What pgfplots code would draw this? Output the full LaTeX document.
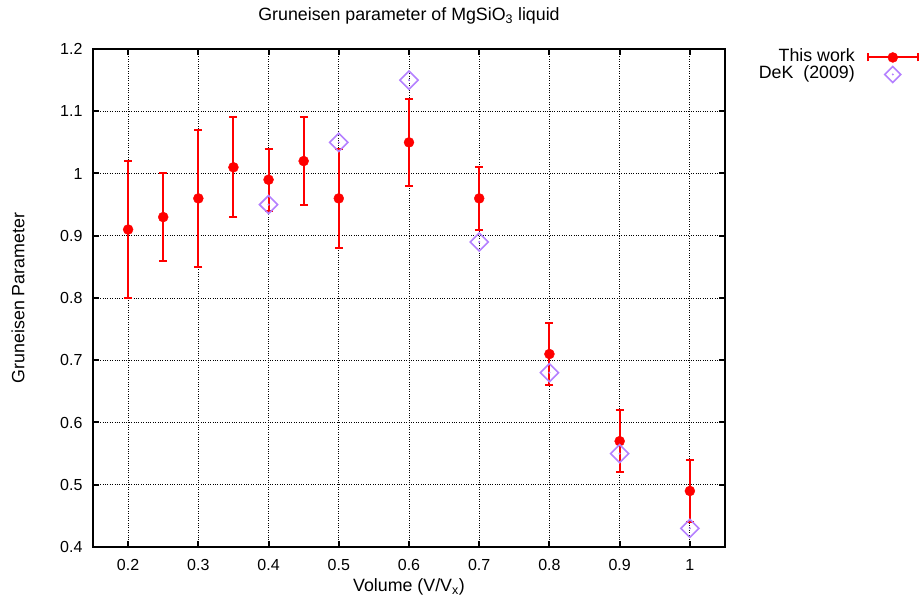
\documentclass[border=0pt]{standalone}
\usepackage{pgfplots}
\pgfplotsset{compat=1.18}
\usepackage{pgfplotstable}
\usepackage{fontspec}
\setmainfont{Liberation Sans}
\definecolor{dekcol}{RGB}{180,128,255}
\pgfplotstableread{
x y e
0.20 0.91 0.11
0.25 0.93 0.07
0.30 0.96 0.11
0.35 1.01 0.08
0.40 0.99 0.05
0.45 1.02 0.07
0.50 0.96 0.08
0.60 1.05 0.07
0.70 0.96 0.05
0.80 0.71 0.05
0.90 0.57 0.05
1.00 0.49 0.05
}\thiswork
\pgfplotstableread{
x y
0.40 0.95
0.50 1.05
0.60 1.15
0.70 0.89
0.80 0.68
0.90 0.55
1.00 0.43
}\dek
\newcommand{\labfont}{\fontsize{17.8bp}{20bp}\selectfont}
\newcommand{\tickfont}{\fontsize{16bp}{19bp}\selectfont}
\begin{document}
\begin{tikzpicture}
\path[use as bounding box] (-93bp,-50bp) rectangle (826bp,547bp);
\begin{axis}[
  at={(0bp,0bp)}, anchor=south west,
  scale only axis, width=632bp, height=498bp,
  xmin=0.15, xmax=1.05, ymin=0.4, ymax=1.2,
  xtick={0.2,0.3,...,1.0}, ytick={0.4,0.5,...,1.2},
  xticklabels={0.2,0.3,0.4,0.5,0.6,0.7,0.8,0.9,1},
  yticklabels={0.4,0.5,0.6,0.7,0.8,0.9,1,1.1,1.2},
  /pgf/number format/assume math mode=true,
  tick label style={font=\tickfont},
  axis line style={line width=2bp},
  tick style={line width=2bp, black},
  major tick length=6bp,
  tick align=inside,
  grid=major,
  major grid style={dotted, black, line width=0.8bp},
  title={Gruneisen parameter of MgSiO\textsubscript{3} liquid},
  title style={font=\labfont, at={(axis description cs:0.5,1.054)}, anchor=center},
  xlabel={Volume (V/V\textsubscript{x})},
  xlabel style={font=\labfont, at={(axis description cs:0.5,-0.0803)}, anchor=center},
  ylabel={Gruneisen Parameter},
  ylabel style={font=\labfont, at={(axis description cs:-0.1187,0.5)}, anchor=center, rotate=0},
  xticklabel style={yshift=-9bp},
  yticklabel style={xshift=-7bp},
  legend style={draw=none, fill=none, at={(axis description cs:1.307,1.0)}, anchor=north east,
    font=\labfont, row sep=0bp, inner sep=0bp,
    nodes={inner sep=1bp, text height=11.5bp, text depth=3bp}},
  legend cell align=right,
  legend plot pos=right,
]
\addplot[red, only marks, mark=*, mark size=5bp,
  legend image code/.code={
    \path[draw=none] (0bp,0bp) -- (63bp,0bp);
    \draw[red, line width=2bp] (12bp,0bp) -- (62bp,0bp);
    \draw[red, line width=2bp] (12bp,-4bp) -- (12bp,4bp) (62bp,-4bp) -- (62bp,4bp);
    \fill[red] (37bp,0bp) circle (5bp);},
  error bars/.cd, y dir=both, y explicit,
  error bar style={line width=2bp, red},
  error mark options={rotate=90, mark size=4bp, line width=2bp, red}]
  table[x=x, y=y, y error=e] {\thiswork};
\addlegendentry{This work}
\addplot[only marks, mark=square, mark size=6.4bp, dekcol,
  mark options={rotate=45, line width=1.6bp},
  legend image code/.code={
    \path[draw=none] (0bp,0bp) -- (63bp,0bp);
    \draw[dekcol, line width=1.6bp] (37bp,-8bp) -- (45bp,0bp) -- (37bp,8bp) -- (29bp,0bp) -- cycle;
    \fill[dekcol] (37bp,0bp) circle (0.8bp);}]
  table[x=x,y=y] {\dek};
\addlegendentry{DeK\ \ (2009)}
\addplot[only marks, mark=*, mark size=0.8bp, dekcol, forget plot] table[x=x,y=y] {\dek};
\end{axis}
\end{tikzpicture}
\end{document}
